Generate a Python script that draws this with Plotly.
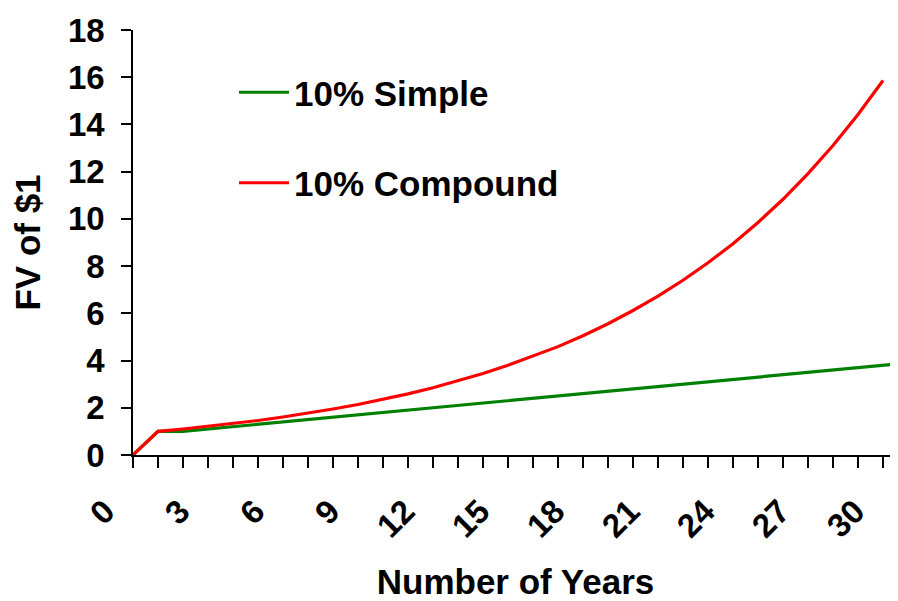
import plotly.graph_objects as go

compound_x = list(range(0, 31))
compound_y = [0, 1.00, 1.10, 1.21, 1.33, 1.46, 1.61, 1.77, 1.95, 2.14, 2.36,
              2.59, 2.85, 3.14, 3.45, 3.80, 4.18, 4.59, 5.05, 5.56, 6.12,
              6.73, 7.40, 8.14, 8.95, 9.85, 10.83, 11.92, 13.11, 14.42, 15.86]

simple_x = list(range(0, 32))
simple_y = [0, 1.0, 1.0, 1.1, 1.2, 1.3, 1.4, 1.5, 1.6, 1.7, 1.8,
            1.9, 2.0, 2.1, 2.2, 2.3, 2.4, 2.5, 2.6, 2.7, 2.8,
            2.9, 3.0, 3.1, 3.2, 3.3, 3.4, 3.5, 3.6, 3.7, 3.8, 3.9]

x_tick_vals = list(range(0, 31))
x_tick_text = ["0", "", "", "3", "", "", "6", "", "", "9", "", "", "12", "", "", "15",
               "", "", "18", "", "", "21", "", "", "24", "", "", "27", "", "", "30"]
y_tick_vals = [0, 2, 4, 6, 8, 10, 12, 14, 16, 18]

FONT = "Liberation Sans, Arial, sans-serif"
TICK_FONT = dict(family=FONT, size=33, color="black", weight="bold")
TITLE_FONT = dict(family=FONT, size=35, color="black", weight="bold")

fig = go.Figure()
fig.add_trace(go.Scatter(x=simple_x, y=simple_y, mode="lines", name="10% Simple",
                         line=dict(color="#008000", width=3.2), legendgroup="a"))
fig.add_trace(go.Scatter(x=compound_x, y=compound_y, mode="lines", name="10% Compound",
                         line=dict(color="#FF0000", width=3.2), legendgroup="b"))

fig.update_layout(
    width=898, height=601,
    margin=dict(l=125, r=8, t=22, b=154),
    paper_bgcolor="white", plot_bgcolor="white",
    font=dict(family=FONT, size=33, color="black", weight="bold"),
    showlegend=True,
    legend=dict(x=101 / 765, y=1 - 33 / 425, xanchor="left", yanchor="top",
                bgcolor="rgba(0,0,0,0)", tracegroupgap=42, itemwidth=50,
                font=TITLE_FONT),
    xaxis=dict(range=[0, 30.6], tickmode="array", tickvals=x_tick_vals, ticktext=x_tick_text,
               tickangle=-45, ticks="outside", ticklen=11, tickwidth=1.5, tickcolor="black",
               showline=True, linecolor="black", linewidth=1.5, showgrid=False, zeroline=False,
               ticklabelstandoff=11, ticklabelshift=-28,
               tickfont=TICK_FONT,
               title=dict(text="Number of Years", standoff=26, font=TITLE_FONT),
               automargin=False),
    yaxis=dict(range=[0, 18], tickmode="array", tickvals=y_tick_vals,
               ticks="outside", ticklen=10, tickwidth=1.5, tickcolor="black",
               showline=True, linecolor="black", linewidth=1.5, showgrid=False, zeroline=False,
               ticklabelstandoff=10,
               tickfont=TICK_FONT,
               title=dict(text="FV of $1", standoff=17, font=TITLE_FONT),
               automargin=False),
)

fig.write_html("out.html")
